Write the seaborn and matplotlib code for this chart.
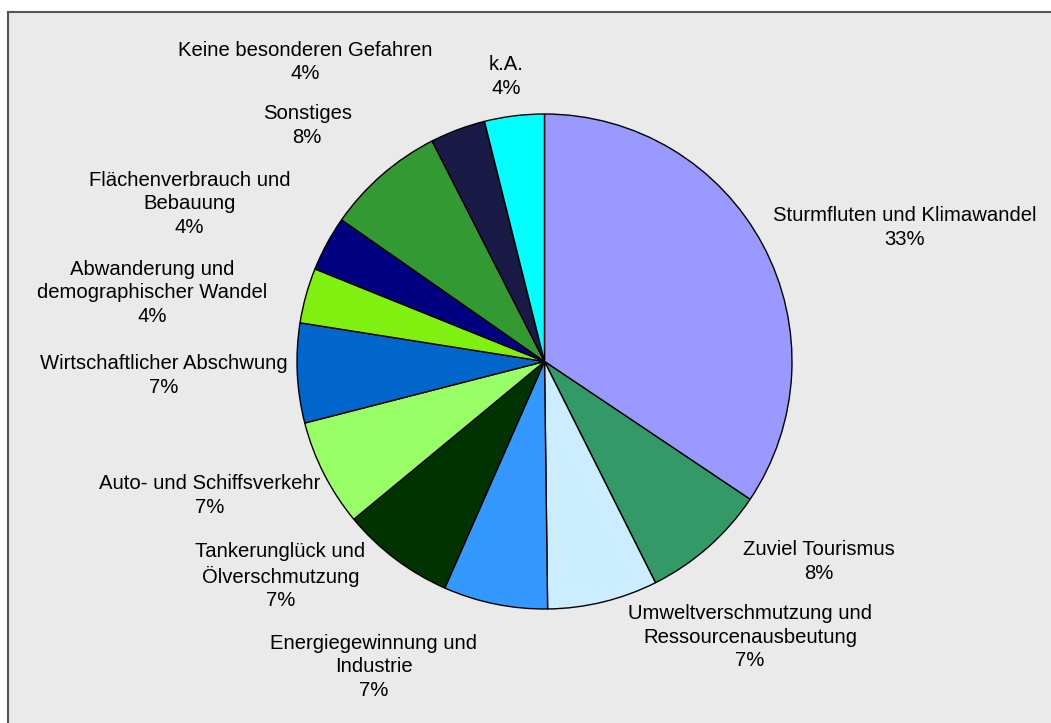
import numpy as np
import matplotlib
matplotlib.use("Agg")
import matplotlib.pyplot as plt
import seaborn as sns
from matplotlib.patches import Rectangle

# Data (shares, labels as printed on the chart)
categories = [
    "Sturmfluten und Klimawandel",
    "Zuviel Tourismus",
    "Umweltverschmutzung und\nRessourcenausbeutung",
    "Energiegewinnung und\nIndustrie",
    "Tankerunglück und\nÖlverschmutzung",
    "Auto- und Schiffsverkehr",
    "Wirtschaftlicher Abschwung",
    "Abwanderung und\ndemographischer Wandel",
    "Flächenverbrauch und\nBebauung",
    "Sonstiges",
    "Keine besonderen Gefahren",
    "k.A.",
]
shares = [34.4, 8.2, 7.2, 6.8, 7.4, 7.0, 6.5, 3.6, 3.6, 7.8, 3.6, 3.9]
pct_labels = ["33%", "8%", "7%", "7%", "7%", "7%", "7%", "4%", "4%", "8%", "4%", "4%"]

colors = ["#9999ff", "#339966", "#ccecff", "#3399ff", "#003300", "#99ff66",
          "#0066cc", "#80f010", "#000080", "#339933", "#1a1a47", "#00ffff"]

# label nudges in pixels (x right, y down) to match the hand-placed labels
nudges = [(-12, 4), (18, -20), (19, -22), (-13, 5), (-15, -30), (18, 1),
          (15, 0), (-15, 13), (-15, -12), (-14, -15), (-17, -25), (12, 6)]

sns.set_theme(style="white")
plt.rcParams["font.family"] = ["Liberation Sans", "DejaVu Sans"]

W, H = 1051, 723
fig = plt.figure(figsize=(W / 100, H / 100), dpi=100, facecolor="white")
ax = fig.add_axes([0, 0, 1, 1])
ax.set_facecolor("none")

# grey chart area, frame visible on the left/top only
ax.add_patch(Rectangle((8, -20), W, H - 12 + 20, facecolor="#eaeaea",
                       edgecolor="#555555", linewidth=1.5, zorder=0, clip_on=False))

cx, cy, r = 544.5, H - 361.5, 247.5
wedges, _ = ax.pie(shares, colors=colors, startangle=90, counterclock=False,
                   center=(cx, cy), radius=r,
                   wedgeprops=dict(edgecolor="black", linewidth=1, zorder=2))

fs = 14.6
for w, name, pct, (nx, ny) in zip(wedges, categories, pct_labels, nudges):
    ang = np.deg2rad((w.theta1 + w.theta2) / 2)
    c, s = np.cos(ang), np.sin(ang)
    x, y = cx + 1.1 * r * c, cy + 1.1 * r * s
    text = name + "\n" + pct
    nlines = text.count("\n") + 1
    h = 26.5 * nlines - 11
    ax.annotate(text, xy=(x, y), xytext=(nx, s * h / 2 - ny),
                textcoords="offset pixels",
                ha="left" if c > 0 else "right", va="center",
                multialignment="center", fontsize=fs, linespacing=1.3,
                color="black", zorder=3)

ax.set_xlim(0, W)
ax.set_ylim(0, H)
ax.set_aspect("equal")
ax.axis("off")

fig.savefig("out.png", dpi=100, facecolor="white")
